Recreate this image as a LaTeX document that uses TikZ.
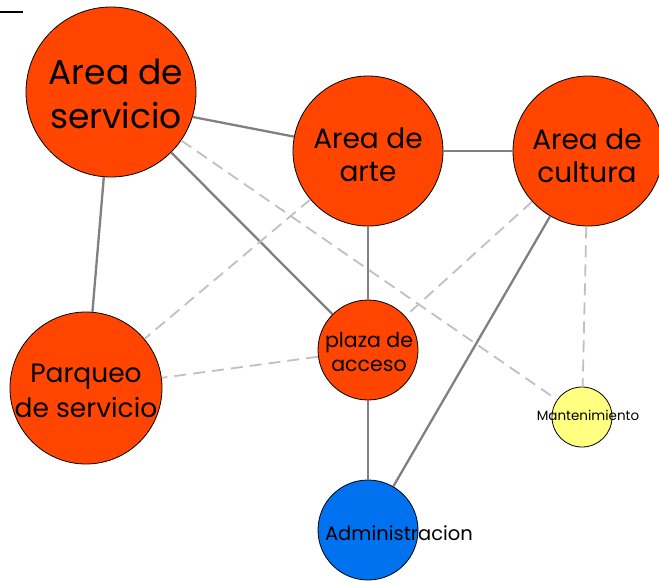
\documentclass[tikz,border=0pt]{standalone}
\usepackage{fontspec}
\setmainfont{Poppins}
\definecolor{orng}{RGB}{255,69,0}
\definecolor{blu}{RGB}{0,114,240}
\definecolor{yel}{RGB}{255,255,128}
\definecolor{solidgray}{RGB}{128,128,128}
\definecolor{dashgray}{RGB}{192,192,192}
\tikzset{
  bubble/.style={circle, draw=black, line width=0.8pt, inner sep=0pt},
  solidlink/.style={draw=solidgray, line width=2.3pt},
  dashlink/.style={draw=dashgray, line width=1.8pt, dash pattern=on 12pt off 7pt},
  lbl/.style={align=center, inner sep=0pt, text=black}
}
\begin{document}
\begin{tikzpicture}[x=1pt,y=-1pt]
\useasboundingbox (0,0) rectangle (659,582);
% circles
\node[bubble, fill=orng, minimum size=170pt] (serv) at (111,92) {};
\node[bubble, fill=orng, minimum size=150pt] (arte) at (368,151) {};
\node[bubble, fill=orng, minimum size=150pt] (cult) at (588,151) {};
\node[bubble, fill=orng, minimum size=152pt] (parq) at (86,388) {};
\node[bubble, fill=orng, minimum size=100pt] (plaza) at (368,350) {};
\node[bubble, fill=yel, minimum size=60pt] (mant) at (582,417) {};
\node[bubble, fill=blu, minimum size=100pt] (admin) at (368,530) {};
% links
\draw[solidlink] (serv.-17) -- (arte.169);
\draw[solidlink] (arte) -- (cult);
\draw[solidlink] (serv) -- (parq);
\draw[solidlink] (serv) -- (plaza);
\draw[solidlink] (arte) -- (plaza);
\draw[solidlink] (plaza) -- (admin);
\draw[solidlink] (cult) -- (admin);
\draw[dashlink] (serv) -- (mant);
\draw[dashlink] (arte) -- (parq);
\draw[dashlink] (plaza) -- (parq);
\draw[dashlink] (cult) -- (plaza);
\draw[dashlink] (cult) -- (mant);
% top-left mark
\coordinate (m1) at (0,12);
\coordinate (m2) at (23,12);
\draw[black, line width=2pt] (m1) -- (m2);
% labels
\node[lbl, font=\fontsize{34.5}{44}\selectfont] (tserv) at (116,94) {Area de\\servicio};
\node[lbl, font=\fontsize{28}{33}\selectfont] (tarte) at (368,155) {Area de\\arte};
\node[lbl, font=\fontsize{28}{33}\selectfont] (tcult) at (587,156) {Area de\\cultura};
\node[lbl, font=\fontsize{26.5}{35}\selectfont] (tparq) at (86,391) {Parqueo\\de servicio};
\node[lbl, font=\fontsize{20.5}{24}\selectfont] (tplaza) at (369,352) {plaza de\\acceso};
\node[lbl, font=\fontsize{13.5}{15}\selectfont] (tmant) at (588,415) {Mantenimiento};
\node[lbl, font=\fontsize{19.5}{24}\selectfont] (tadmin) at (399,533) {Administracion};
\end{tikzpicture}
\end{document}
